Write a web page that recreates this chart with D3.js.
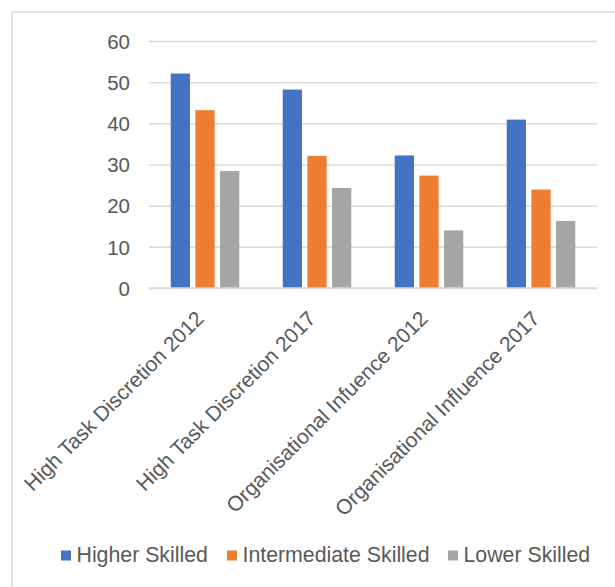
<!DOCTYPE html>
<html><head><meta charset="utf-8">
<script src="https://cdn.jsdelivr.net/npm/d3@7"></script>
<style>body{margin:0;background:#fff}svg{display:block}</style>
</head><body>
<svg id="c" width="615" height="587"></svg>
<script>
const categories = ["High Task Discretion 2012","High Task Discretion 2017","Organisational Infuence 2012","Organisational Influence 2017"];
const seriesNames = ["Higher Skilled","Intermediate Skilled","Lower Skilled"];
const higherSkilled = [52.1, 48.2, 32.2, 40.9];
const intermediateSkilled = [43.2, 32.1, 27.3, 23.9];
const lowerSkilled = [28.4, 24.3, 14.0, 16.3];
const yTicks = [0,10,20,30,40,50,60];
const colors = ["#4472C4","#ED7D31","#A5A5A5"];
const seriesValues = [higherSkilled, intermediateSkilled, lowerSkilled];

const svg = d3.select("#c");
const font = "'Liberation Sans', Arial, sans-serif";
const txt = "#595959";

svg.append("rect").attr("x",12).attr("y",12).attr("width",700).attr("height",700)
  .attr("fill","#fff").attr("stroke","#D9D9D9").attr("stroke-width",1.5);

const x0 = d3.scaleBand().domain(categories).range([149,597]).paddingInner(0).paddingOuter(0);
const x1 = d3.scaleBand().domain(seriesNames).range([0, x0.bandwidth()]).paddingInner(0.22).paddingOuter(0.88);
const y = d3.scaleLinear().domain([0,60]).range([288,41]);

const yAxis = d3.axisLeft(y).tickValues(yTicks).tickSize(-(597-149)).tickPadding(19);
const gy = svg.append("g").attr("transform","translate(149,0)").call(yAxis);
gy.select(".domain").remove();
gy.selectAll(".tick line").attr("stroke","#D9D9D9").attr("stroke-width",1.5);
gy.selectAll(".tick text").attr("fill",txt).style("font-family",font).style("font-size","20.5px").attr("dy","0.35em");

const rows = categories.map((c,i)=>({c, vals: seriesNames.map((s,j)=>({s, v: seriesValues[j][i], col: colors[j]}))}));
const g = svg.append("g");
const grp = g.selectAll("g.grp").data(rows).join("g").attr("class","grp")
  .attr("transform", d=>`translate(${x0(d.c)},0)`);
grp.selectAll("rect").data(d=>d.vals).join("rect")
  .attr("x", d=>x1(d.s)).attr("width", x1.bandwidth())
  .attr("y", d=>y(d.v)).attr("height", d=>y(0)-y(d.v))
  .attr("fill", d=>d.col);

svg.append("line").attr("x1",149).attr("x2",597).attr("y1",y(0)).attr("y2",y(0)).attr("stroke","#D9D9D9").attr("stroke-width",1.5);

const xAxis = d3.axisBottom(x0).tickSize(0).tickPadding(0);
const gx = svg.append("g").attr("transform",`translate(0,${y(0)})`).call(xAxis);
gx.select(".domain").remove();
gx.selectAll(".tick text").attr("fill",txt).style("font-family",font).style("font-size","21px")
  .attr("text-anchor","end").attr("dy",0).attr("y",0)
  .attr("transform","translate(0,32) rotate(-45)");

const legend = svg.append("g");
const lx = [61, 227, 448];
seriesNames.forEach((s,i)=>{
  legend.append("rect").attr("x",lx[i]).attr("y",550.5).attr("width",10).attr("height",10).attr("fill",colors[i]);
  legend.append("text").attr("x",lx[i]+15.5).attr("y",561.5).text(s)
    .attr("fill",txt).style("font-family",font).style("font-size","21.3px");
});
</script>
</body></html>
